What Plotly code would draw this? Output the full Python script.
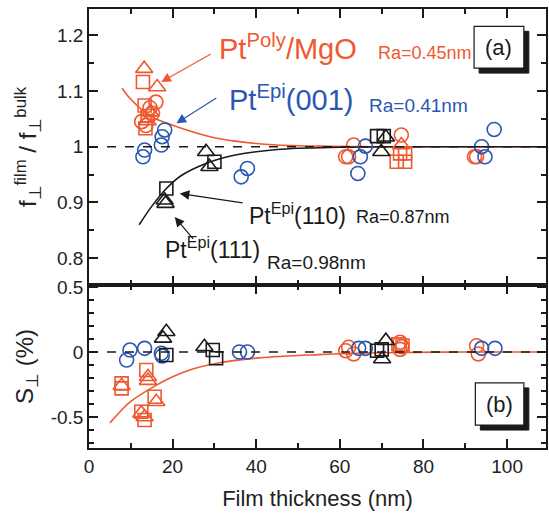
import plotly.graph_objects as go

RED = "#ef5830"
BLUE = "#2a56b4"
BLACK = "#1a1a1a"

# ---------------- Panel (a): f_film / f_bulk ----------------
a_poly_circ_x = [16.0, 14.6, 15.2, 12.6, 13.6, 62.1, 61.4, 63.3, 74.7, 92.7, 92.2]
a_poly_circ_y = [1.080, 1.070, 1.060, 1.045, 1.038, 0.982, 0.982, 1.003, 1.021, 0.982, 0.982]
a_poly_sq_x = [12.9, 13.3, 14.0, 13.5, 74.4, 75.6, 73.6, 75.6]
a_poly_sq_y = [1.116, 1.074, 1.055, 1.033, 0.988, 0.988, 0.973, 0.973]
a_poly_tri_x = [13.2, 16.3, 14.6, 14.0, 74.7]
a_poly_tri_y = [1.140, 1.107, 1.062, 1.046, 1.003]

a_001_x = [18.1, 17.5, 17.3, 13.3, 12.9, 37.9, 36.4, 66.1, 64.9, 64.3, 93.9, 94.7, 96.9]
a_001_y = [1.030, 1.018, 1.003, 0.994, 0.982, 0.961, 0.946, 1.001, 0.982, 0.952, 1.000, 0.982, 1.031]

a_110_x = [30.0, 18.5, 68.9, 70.5]
a_110_y = [0.973, 0.925, 1.019, 1.019]
a_111_x = [28.0, 28.8, 18.1, 18.3, 71.0, 69.9]
a_111_y = [0.991, 0.964, 0.904, 0.898, 1.017, 0.991]

a_fit_poly_x = [7.9, 10, 13, 16, 21, 29, 35, 43, 55, 70, 90, 110]
a_fit_poly_y = [1.105, 1.085, 1.064, 1.050, 1.036, 1.018, 1.010, 1.004, 1.001, 1.0, 1.0, 1.0]
a_fit_epi_x = [12.0, 15, 18.5, 22, 28, 35, 45, 60, 80, 110]
a_fit_epi_y = [0.860, 0.893, 0.925, 0.948, 0.970, 0.985, 0.995, 0.999, 1.0, 1.0]

# ---------------- Panel (b): S (%) ----------------
b_poly_circ_x = [62.1, 61.4, 63.3, 74.4, 74.8, 74.4, 92.7, 93.1]
b_poly_circ_y = [0.036, 0.010, -0.015, 0.075, 0.040, 0.020, 0.048, -0.015]
b_poly_sq_x = [7.8, 7.8, 13.7, 15.7, 12.5, 13.3, 74.0, 75.0]
b_poly_sq_y = [-0.241, -0.280, -0.138, -0.344, -0.459, -0.523, 0.060, 0.050]
b_poly_tri_x = [7.8, 14.1, 14.1, 16.1, 12.5, 13.3]
b_poly_tri_y = [-0.260, -0.190, -0.220, -0.382, -0.470, -0.500]

b_001_x = [9.0, 9.8, 13.3, 17.3, 17.5, 36.0, 37.9, 64.5, 66.1, 93.9, 97.1]
b_001_y = [-0.062, 0.015, 0.028, -0.010, -0.030, 0.0, 0.0, 0.028, 0.028, 0.028, 0.028]

b_110_x = [18.5, 29.6, 30.4, 68.9, 70.0]
b_110_y = [-0.023, 0.015, -0.048, 0.010, 0.020]
b_111_x = [18.5, 17.7, 27.6, 71.0, 70.1]
b_111_y = [0.156, 0.105, 0.040, 0.087, -0.054]

b_fit_poly_x = [5, 8, 10, 15.3, 20, 24.8, 30, 40.7, 55, 70, 90, 110]
b_fit_poly_y = [-0.545, -0.44, -0.38, -0.27, -0.19, -0.13, -0.09, -0.045, -0.02, -0.006, 0.0, 0.0]

x_ticks = [0, 20, 40, 60, 80, 100]

fig = go.Figure()

def pts(x, y, sym, color, size, xa, ya):
    fig.add_trace(go.Scatter(
        x=x, y=y, mode="markers", xaxis=xa, yaxis=ya, showlegend=False,
        marker=dict(symbol=sym, size=size, color=color,
                    line=dict(color=color, width=1.6))))

def line(x, y, color, xa, ya):
    fig.add_trace(go.Scatter(x=x, y=y, mode="lines", xaxis=xa, yaxis=ya,
                             showlegend=False, line=dict(color=color, width=1.6, shape="spline")))

# fits first
line(a_fit_poly_x, a_fit_poly_y, RED, "x", "y")
line(a_fit_epi_x, a_fit_epi_y, BLACK, "x", "y")
line(b_fit_poly_x, b_fit_poly_y, RED, "x2", "y2")

pts(a_poly_circ_x, a_poly_circ_y, "circle-open", RED, 14, "x", "y")
pts(a_poly_sq_x, a_poly_sq_y, "square-open", RED, 13, "x", "y")
pts(a_poly_tri_x, a_poly_tri_y, "triangle-up-open", RED, 15, "x", "y")
pts(a_001_x, a_001_y, "circle-open", BLUE, 14, "x", "y")
pts(a_110_x, a_110_y, "square-open", BLACK, 13, "x", "y")
pts(a_111_x, a_111_y, "triangle-up-open", BLACK, 15, "x", "y")

pts(b_poly_circ_x, b_poly_circ_y, "circle-open", RED, 14, "x2", "y2")
pts(b_poly_sq_x, b_poly_sq_y, "square-open", RED, 13, "x2", "y2")
pts(b_poly_tri_x, b_poly_tri_y, "triangle-up-open", RED, 15, "x2", "y2")
pts(b_001_x, b_001_y, "circle-open", BLUE, 14, "x2", "y2")
pts(b_110_x, b_110_y, "square-open", BLACK, 13, "x2", "y2")
pts(b_111_x, b_111_y, "triangle-up-open", BLACK, 15, "x2", "y2")

# dashed reference lines
fig.add_shape(type="line", xref="x domain", yref="y", x0=0, x1=1, y0=1, y1=1,
              line=dict(color=BLACK, width=1.6, dash="dash"))
fig.add_shape(type="line", xref="x2 domain", yref="y2", x0=0, x1=1, y0=0, y1=0,
              line=dict(color=BLACK, width=1.6, dash="dash"))

F = "Liberation Sans, Arial, sans-serif"

# panel label boxes
def label_box(xr, yr, x0, x1, y0, y1, dx, dy, txt):
    fig.add_shape(type="rect", xref=xr, yref=yr, x0=x0 + dx, x1=x1 + dx, y0=y0 - dy, y1=y1 - dy,
                  fillcolor=BLACK, line=dict(color=BLACK, width=1))
    fig.add_shape(type="rect", xref=xr, yref=yr, x0=x0, x1=x1, y0=y0, y1=y1,
                  fillcolor="white", line=dict(color=BLACK, width=1.2))
    fig.add_annotation(xref=xr, yref=yr, x=(x0 + x1) / 2, y=(y0 + y1) / 2, text=txt,
                       showarrow=False, font=dict(size=22, color=BLACK, family=F))

label_box("x", "y", 92.1, 104.0, 1.141, 1.216, 1.2, 0.009, "(a)")
label_box("x2", "y2", 92.4, 104.0, -0.562, -0.238, 1.2, 0.038, "(b)")


def txt(x, y, s, color, size):
    fig.add_annotation(xref="x", yref="y", x=x, y=y, text=s, showarrow=False,
                       xanchor="left", yanchor="middle", font=dict(size=size, color=color, family=F))

def arrow(x, y, ax, ay, color):
    fig.add_annotation(xref="x", yref="y", axref="x", ayref="y", x=x, y=y, ax=ax, ay=ay,
                       text="", showarrow=True, arrowhead=2, arrowsize=1.6, arrowwidth=1.2,
                       arrowcolor=color)

txt(30.7, 1.178, "Pt<sup>Poly</sup>/MgO", RED, 29)
txt(68.6, 1.168, "Ra=0.45nm", RED, 18)
txt(33.1, 1.088, "Pt<sup>Epi</sup>(001)", BLUE, 29)
txt(66.4, 1.074, "Ra=0.41nm", BLUE, 19)
txt(37.9, 0.880, "Pt<sup>Epi</sup>(110)", BLACK, 23)
txt(63.3, 0.874, "Ra=0.87nm", BLACK, 18)
txt(17.6, 0.818, "Pt<sup>Epi</sup>(111)", BLACK, 23)
txt(42.0, 0.793, "Ra=0.98nm", BLACK, 19)

arrow(17.3, 1.116, 29.5, 1.168, RED)
arrow(20.9, 1.042, 30.8, 1.089, BLUE)
arrow(21.7, 0.916, 37.1, 0.899, BLACK)
arrow(20.5, 0.874, 25.2, 0.832, BLACK)

axis_common = dict(showline=True, linecolor=BLACK, linewidth=1.5, mirror="allticks",
                   ticks="inside", ticklen=9, tickwidth=1.5, tickcolor=BLACK,
                   showgrid=False, zeroline=False,
                   tickfont=dict(size=19, color="#222", family=F))

fig.update_layout(
    width=549, height=514, plot_bgcolor="white", paper_bgcolor="white",
    margin=dict(l=89, r=1, t=9, b=66),
    font=dict(family=F),
    xaxis=dict(domain=[0, 1], anchor="y", range=[0, 109.3], tickvals=x_ticks,
               showticklabels=False, matches="x2",
               minor=dict(dtick=10, ticks="inside", ticklen=5, tickwidth=1.5, tickcolor=BLACK),
               **axis_common),
    yaxis=dict(domain=[0.3713, 1], anchor="x", range=[0.752, 1.247],
               tickvals=[0.8, 0.9, 1.0, 1.1, 1.2], ticktext=["0.8", "0.9", "1", "1.1", "1.2"],
               minor=dict(dtick=0.05, ticks="inside", ticklen=5, tickwidth=1.5, tickcolor=BLACK),
               title=dict(text="f<sub>⊥</sub><sup>film</sup> / f<sub>⊥</sub><sup>bulk</sup>",
                          font=dict(size=24, color="#222"), standoff=14),
               **axis_common),
    xaxis2=dict(domain=[0, 1], anchor="y2", range=[0, 109.3], tickvals=x_ticks,
                minor=dict(dtick=10, ticks="inside", ticklen=5, tickwidth=1.5, tickcolor=BLACK),
                title=dict(text="Film thickness (nm)", font=dict(size=22, color="#222"), standoff=15),
                **axis_common),
    yaxis2=dict(domain=[0, 0.3713], anchor="x2", range=[-0.738, 0.515],
                tickvals=[-0.5, 0, 0.5], ticktext=["-0.5", "0", "0.5"],
                minor=dict(dtick=0.1, ticks="inside", ticklen=5, tickwidth=1.5, tickcolor=BLACK),
                title=dict(text="S<sub>⊥</sub> (%)", font=dict(size=24, color="#222"), standoff=10),
                **axis_common),
)

fig.write_html("out.html")
